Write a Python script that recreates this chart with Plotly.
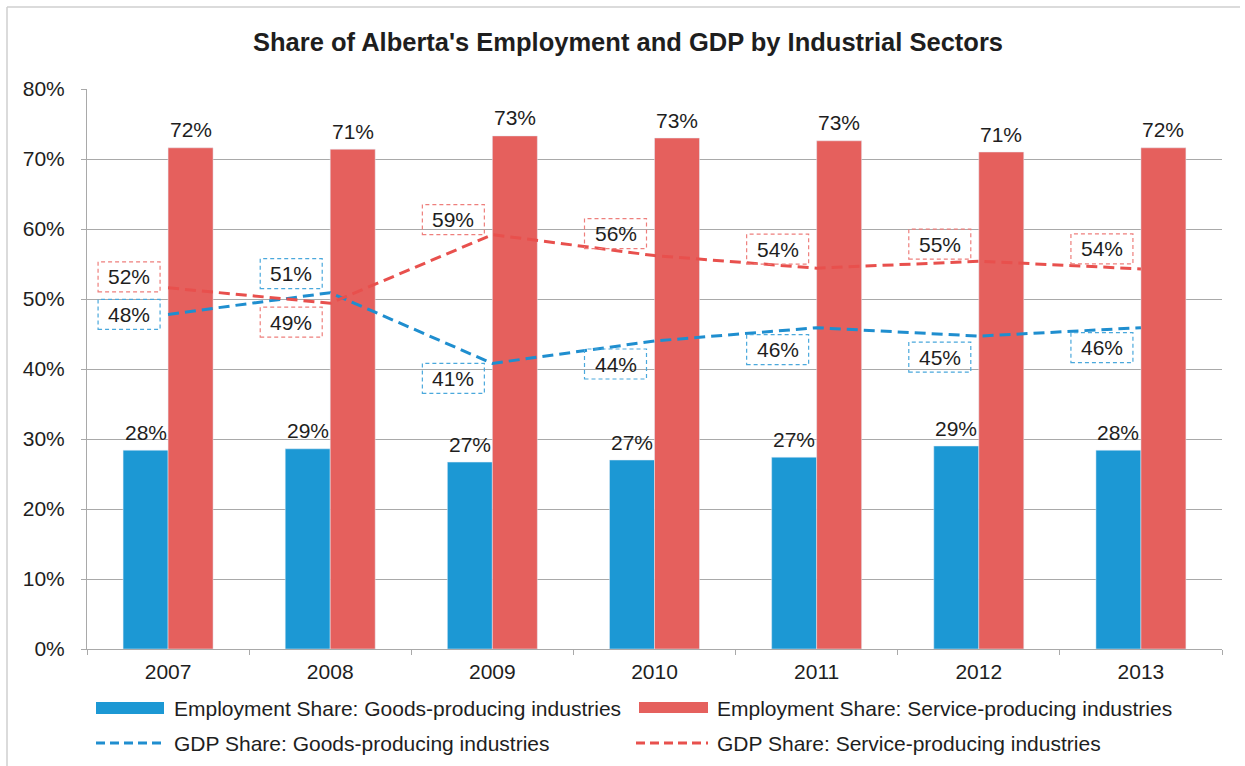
import plotly.graph_objects as go

# ---- data -------------------------------------------------------------
years = ["2007", "2008", "2009", "2010", "2011", "2012", "2013"]
emp_goods = [28.4, 28.6, 26.7, 27.0, 27.4, 29.0, 28.4]
emp_service = [71.6, 71.4, 73.3, 73.0, 72.6, 71.0, 71.6]
gdp_goods = [47.8, 50.9, 40.8, 44.0, 45.9, 44.7, 45.9]
gdp_service = [51.6, 49.4, 59.2, 56.2, 54.4, 55.4, 54.3]

series_names = [
    "Employment Share: Goods-producing industries",
    "Employment Share: Service-producing industries",
    "GDP Share: Goods-producing industries",
    "GDP Share: Service-producing industries",
]

# ---- styling ----------------------------------------------------------
BLUE = "#1c98d4"
RED = "#e5605d"
LINE_BLUE = "#1f8ecf"
LINE_RED = "#e8504d"
BOX_BLUE = "#4aa8dc"
BOX_RED = "#ee7f7c"
GRID = "#a9a9a9"
TEXT = "#1e1e1e"
FONT = "Liberation Sans, Arial, sans-serif"
FS = 21

W, H = 1245, 766
L, R, T, B = 87, 23, 89, 117
PW, PH = W - L - R, H - T - B


def fx(p):
    """pixel x -> paper x"""
    return (p - L) / PW


def fy(p):
    """pixel y -> paper y"""
    return (H - B - p) / PH


# vertical pixel offsets (screen-down positive) of the boxed GDP labels
red_label_dy = [-11, 19, -15, -22, -19, -17, -20]
blue_label_dy = [0, -19, 15, 23, 22, 21, 20]

fig = go.Figure()

fig.add_trace(go.Bar(
    x=years, y=emp_goods, name=series_names[0], marker_color=BLUE,
))
fig.add_trace(go.Bar(
    x=years, y=emp_service, name=series_names[1], marker_color=RED,
))
fig.add_trace(go.Scatter(
    x=years, y=gdp_goods, name=series_names[2], mode="lines",
    line=dict(color=LINE_BLUE, width=3, dash="11px,6px"),
))
fig.add_trace(go.Scatter(
    x=years, y=gdp_service, name=series_names[3], mode="lines",
    line=dict(color=LINE_RED, width=3, dash="11px,6px"),
))

shapes = []
annotations = []

# value labels above the employment bars (x as category index)
for vals, xs in ((emp_goods, -22.5), (emp_service, 22.5)):
    for i, v in enumerate(vals):
        annotations.append(dict(
            xref="x", yref="y", x=i, y=v, text=f"{v:.0f}%",
            showarrow=False, xshift=xs, yshift=18, yanchor="middle",
            font=dict(size=FS, color=TEXT, family=FONT),
        ))

# boxed value labels for the GDP lines
for vals, dys, box_col in ((gdp_service, red_label_dy, BOX_RED),
                           (gdp_goods, blue_label_dy, BOX_BLUE)):
    for i, (v, dy) in enumerate(zip(vals, dys)):
        shapes.append(dict(
            type="rect", xref="x", yref="y",
            xsizemode="pixel", ysizemode="pixel",
            xanchor=i, yanchor=v,
            x0=-70, x1=-8, y0=-dy - 15, y1=-dy + 15,
            line=dict(color=box_col, width=1.2, dash="4px,3px"),
            fillcolor="rgba(0,0,0,0)",
        ))
        annotations.append(dict(
            xref="x", yref="y", x=i, y=v, text=f"{v:.0f}%",
            showarrow=False, xshift=-39, yshift=-dy,
            font=dict(size=FS, color=TEXT, family=FONT),
        ))

# legend drawn beneath the axis
leg_rows = [708, 743]
shapes += [
    dict(type="rect", xref="paper", yref="paper",
         x0=fx(96), x1=fx(164), y0=fy(714), y1=fy(702),
         fillcolor=BLUE, line=dict(width=0)),
    dict(type="rect", xref="paper", yref="paper",
         x0=fx(639), x1=fx(708), y0=fy(713), y1=fy(702),
         fillcolor=RED, line=dict(width=0)),
    dict(type="line", xref="paper", yref="paper",
         x0=fx(96), x1=fx(164), y0=fy(leg_rows[1]), y1=fy(leg_rows[1]),
         line=dict(color=LINE_BLUE, width=3, dash="9px,5px")),
    dict(type="line", xref="paper", yref="paper",
         x0=fx(636), x1=fx(708), y0=fy(leg_rows[1]), y1=fy(leg_rows[1]),
         line=dict(color=LINE_RED, width=3, dash="9px,5px")),
]
leg_pos = [(172, leg_rows[0]), (715, leg_rows[0]),
           (172, leg_rows[1]), (715, leg_rows[1])]
for name, (px, py) in zip(series_names, leg_pos):
    annotations.append(dict(
        xref="paper", yref="paper", x=fx(px), y=fy(py), text=name,
        showarrow=False, xanchor="left", yanchor="middle",
        font=dict(size=FS, color=TEXT, family=FONT),
    ))

# thin frame around the chart (left and top edges)
shapes += [
    dict(type="line", xref="paper", yref="paper",
         x0=fx(7), x1=fx(7), y0=fy(7), y1=fy(766),
         line=dict(color="#cfcfcf", width=1.5)),
    dict(type="line", xref="paper", yref="paper",
         x0=fx(7), x1=fx(1240), y0=fy(7), y1=fy(7),
         line=dict(color="#cfcfcf", width=1.5)),
]

fig.update_layout(
    width=W, height=H,
    margin=dict(l=L, r=R, t=T, b=B),
    paper_bgcolor="white", plot_bgcolor="white",
    barmode="group", bargap=0.445, bargroupgap=0,
    showlegend=False,
    title=dict(
        text="<b>Share of Alberta's Employment and GDP by Industrial Sectors</b>",
        x=fx(628), xref="paper", xanchor="center",
        y=1 - 42 / H, yref="container", yanchor="middle",
        font=dict(size=25.5, color=TEXT, family=FONT),
    ),
    font=dict(family=FONT, color=TEXT),
    shapes=shapes,
    annotations=annotations,
)

fig.update_xaxes(
    type="category", range=[-0.5, len(years) - 0.5],
    tickson="boundaries", ticks="outside", ticklen=5,
    tickcolor=GRID, showline=True, linecolor=GRID, linewidth=1,
    tickfont=dict(size=FS, color=TEXT, family=FONT), showgrid=False,
    ticklabelstandoff=4,
)
fig.update_yaxes(
    range=[0, 80], dtick=10, ticksuffix="%", showgrid=True,
    gridcolor=GRID, gridwidth=1, showline=True, linecolor=GRID,
    ticks="outside", ticklen=5, tickcolor=GRID,
    tickfont=dict(size=FS, color=TEXT, family=FONT),
    zeroline=False, ticklabelstandoff=12,
)

fig.write_html("out.html")
